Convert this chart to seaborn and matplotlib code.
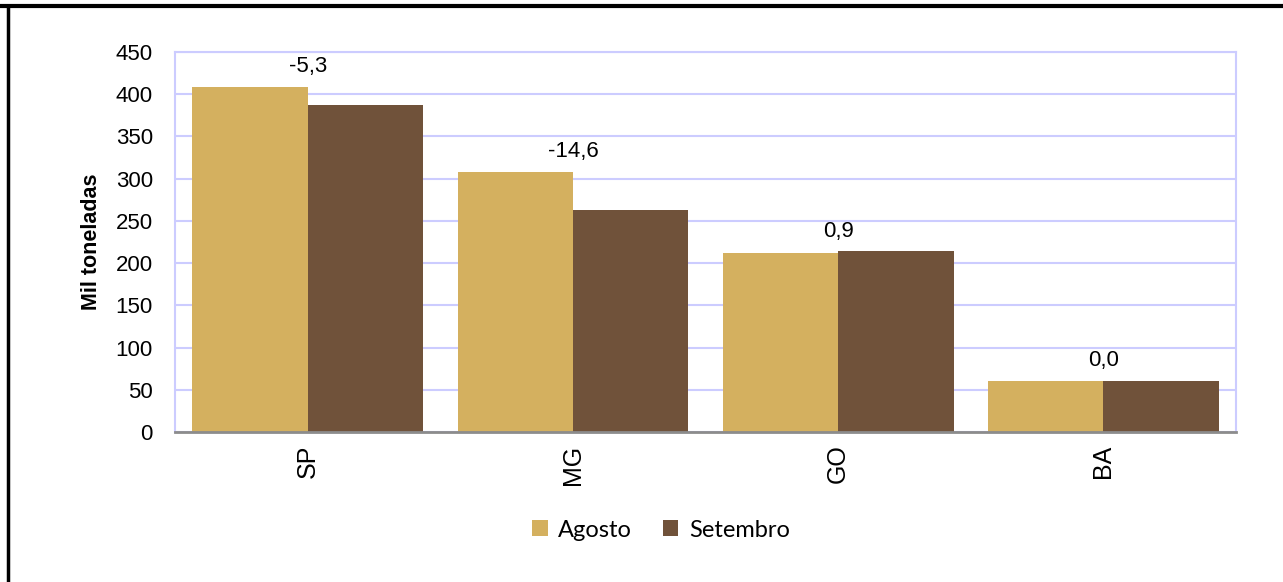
import pandas as pd
import matplotlib.pyplot as plt
import seaborn as sns

# === Data ===
estados = ['SP', 'MG', 'GO', 'BA']
agosto = [409, 308, 212, 61]
setembro = [387, 263, 214, 61]
variacao = ['-5,3', '-14,6', '0,9', '0,0']
meses = ['Agosto', 'Setembro']
cores = ['#D4B05F', '#70523A']

df = pd.DataFrame({
    'estado': estados * 2,
    'mes': [meses[0]] * len(estados) + [meses[1]] * len(estados),
    'valor': agosto + setembro,
})

sns.set_style('white')
plt.rcParams['font.family'] = ['Liberation Sans', 'DejaVu Sans']
plt.rcParams['text.color'] = 'black'
plt.rcParams['axes.labelcolor'] = 'black'
plt.rcParams['xtick.color'] = 'black'
plt.rcParams['ytick.color'] = 'black'

fig = plt.figure(figsize=(12.83, 5.82), dpi=100)
ax = fig.add_axes([0.1364, 0.2577, 0.8270, 0.6530])

sns.barplot(data=df, x='estado', y='valor', hue='mes', palette=cores,
            width=0.87, gap=0, saturation=1, edgecolor='none', ax=ax,
            legend=True)

# variation labels above each pair
for i, txt in enumerate(variacao):
    topo = max(agosto[i], setembro[i])
    ax.text(i, topo + 24, txt, ha='center', va='center', fontsize=16)

ax.set_ylim(0, 450)
ax.set_yticks(range(0, 451, 50))
ax.set_xlim(-0.5, 3.5)
ax.yaxis.grid(True, color='#CCCCFF', linewidth=1.5)
ax.set_axisbelow(True)
for s in ['left', 'right', 'top']:
    ax.spines[s].set_color('#CCCCFF')
    ax.spines[s].set_linewidth(1.5)
ax.spines['bottom'].set_color('#8C8C8C')
ax.spines['bottom'].set_linewidth(2)

ax.set_xlabel('')
ax.set_ylabel('Mil toneladas', fontsize=15.5, fontweight='bold', labelpad=10)
ax.tick_params(axis='y', length=0, labelsize=16, pad=16)
ax.tick_params(axis='x', which='major', length=0, labelsize=18, pad=9)
ax.set_xticks([-0.5, 0.5, 1.5, 2.5, 3.5], minor=True)
ax.tick_params(axis='x', which='minor', length=6, width=1.5, color='#8C8C8C')
plt.setp(ax.get_xticklabels(), rotation=90)

ax.legend(title=None, loc='center', bbox_to_anchor=(0.458, -0.258),
          ncol=2, frameon=False, handlelength=0.65, handleheight=0.65,
          handletextpad=0.45, columnspacing=1.3,
          prop={'family': 'Lato', 'size': 17})

# page frame lines
fig.add_artist(plt.Line2D([0, 1], [0.989, 0.989], color='black', linewidth=3))
fig.add_artist(plt.Line2D([0.0066, 0.0066], [0, 0.989], color='black', linewidth=2.5))

plt.savefig('out.png', dpi=100)
